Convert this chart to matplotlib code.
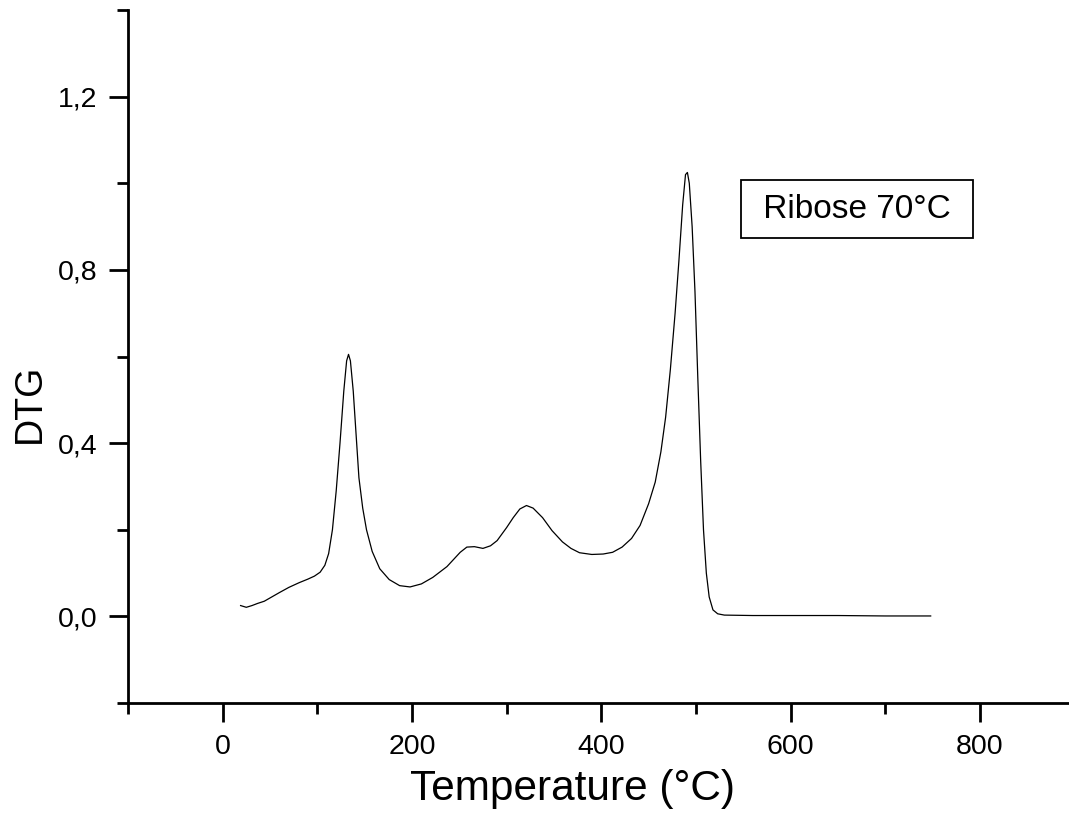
import matplotlib
matplotlib.use("Agg")
from matplotlib import pyplot as plt
from matplotlib.ticker import MultipleLocator, FuncFormatter

plt.rcParams['font.family'] = ['Liberation Sans', 'DejaVu Sans']

# DTG curve
temp = [19, 25, 31, 37, 44, 52, 60, 70, 81, 90, 97, 103, 108, 112, 116, 120, 124, 128,
        131, 133, 135, 138, 141, 144, 148, 152, 158, 166, 176, 187, 198, 210, 222, 237,
        251, 258, 266, 275, 283, 290, 300, 307, 314, 321, 328, 338, 348, 359, 368, 377,
        390, 402, 412, 422, 432, 441, 450, 457, 463, 468, 473, 478, 482, 486, 489, 491,
        493, 496, 499, 502, 505, 508, 511, 514, 518, 523, 530, 560, 600, 650, 700, 748]
dtg = [0.025, 0.021, 0.025, 0.030, 0.035, 0.045, 0.055, 0.067, 0.078, 0.086, 0.093,
       0.102, 0.118, 0.145, 0.20, 0.29, 0.40, 0.52, 0.59, 0.605, 0.59, 0.52, 0.42, 0.32,
       0.25, 0.20, 0.15, 0.11, 0.085, 0.071, 0.068, 0.075, 0.090, 0.115, 0.148, 0.160,
       0.161, 0.157, 0.163, 0.175, 0.205, 0.228, 0.248, 0.256, 0.250, 0.228, 0.198,
       0.172, 0.157, 0.147, 0.143, 0.144, 0.148, 0.160, 0.180, 0.210, 0.26, 0.31, 0.38,
       0.46, 0.57, 0.70, 0.82, 0.95, 1.020, 1.025, 1.000, 0.90, 0.75, 0.55, 0.36, 0.20,
       0.10, 0.045, 0.015, 0.006, 0.003, 0.002, 0.002, 0.002, 0.001, 0.001]

label = "Ribose 70°C"

fig = plt.figure(figsize=(10.69, 8.15), dpi=100)
ax = fig.add_axes([0.1197, 0.1374, 0.8855, 0.8503])

ax.plot(temp, dtg, color='black', linewidth=0.9)

ax.set_xlim(-100, 900)
ax.set_ylim(-0.2, 1.4)

ax.spines['top'].set_visible(False)
ax.spines['right'].set_visible(False)
ax.spines['left'].set_linewidth(2)
ax.spines['bottom'].set_linewidth(2)

ax.xaxis.set_major_locator(MultipleLocator(200))
ax.xaxis.set_minor_locator(MultipleLocator(100))
ax.yaxis.set_major_locator(MultipleLocator(0.4))
ax.yaxis.set_minor_locator(MultipleLocator(0.2))
ax.yaxis.set_major_formatter(FuncFormatter(lambda v, p: f"{v:.1f}".replace('.', ',')))

ax.tick_params(which='major', direction='out', length=14, width=2, labelsize=20.5, pad=8)
ax.tick_params(which='minor', direction='out', length=8, width=2)

ax.set_xlabel("Temperature (°C)", fontsize=30.5)
ax.set_ylabel("DTG", fontsize=27)
ax.xaxis.set_label_coords(0.470, -0.095)
ax.yaxis.set_label_coords(-0.085, 0.433)

ax.text(670, 0.94, " " + label + " ", fontsize=24, ha='center', va='center',
        bbox=dict(boxstyle='square,pad=0.4', facecolor='white', edgecolor='black', linewidth=1.3))

fig.savefig("out.png", dpi=100)
